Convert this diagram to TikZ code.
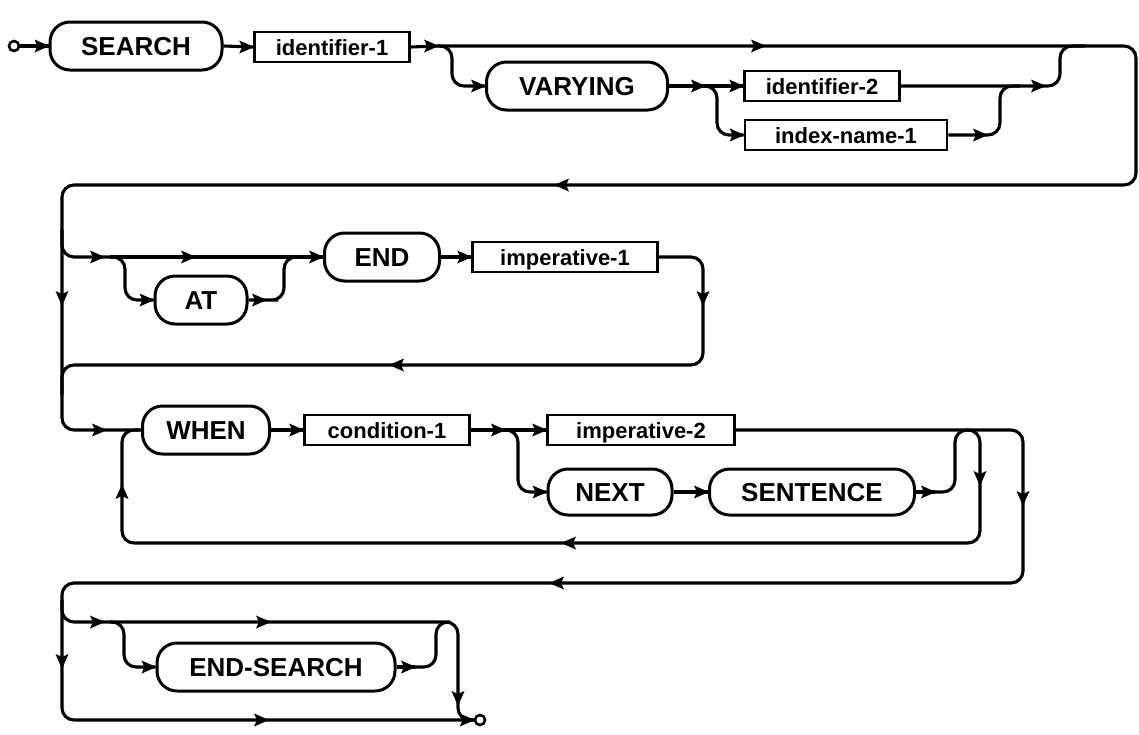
\documentclass[tikz,border=0pt]{standalone}
\usepackage{fontspec}
\setmainfont{Liberation Sans}
\usetikzlibrary{arrows.meta}
\begin{document}
\begin{tikzpicture}[x=1pt,y=-1pt,line width=3.1pt,
  kw/.style={draw,line width=3pt,rounded corners=20pt,minimum height=48pt,inner sep=0pt,text height=19pt,text depth=0pt,font=\fontsize{26}{30}\selectfont\bfseries},
  bx/.style={draw,line width=2.7pt,minimum height=30pt,inner sep=0pt,text height=16pt,text depth=0pt,font=\fontsize{22}{26}\selectfont\bfseries},
  rail/.style={line width=3.1pt,rounded corners=12pt},
  term/.style={circle,draw,line width=2.6pt,minimum size=10pt,inner sep=0pt},
  tipR/.pic={\fill (1,0) -- (-14,-6.5) -- (-11,0) -- (-14,6.5) -- cycle;},
  tipL/.pic={\fill (-1,0) -- (14,-6.5) -- (11,0) -- (14,6.5) -- cycle;},
  tipD/.pic={\fill (0,1) -- (-6.5,-14) -- (0,-11) -- (6.5,-14) -- cycle;},
  tipU/.pic={\fill (0,-1) -- (-6.5,14) -- (0,11) -- (6.5,14) -- cycle;}
]
\useasboundingbox (0,0) rectangle (1139,734);
% nodes
\node[term] (start) at (14,46) {};
\node[kw,minimum width=172pt] (search) at (136,46) {SEARCH};
\node[bx,minimum width=155pt] (id1) at (332,47) {identifier-1};
\coordinate (b1) at (438,46);
\node[kw,minimum width=181pt] (varying) at (577,86) {VARYING};
\coordinate (b2) at (705,86);
\node[bx,minimum width=155pt] (id2) at (822,86) {identifier-2};
\node[bx,minimum width=202pt] (idx) at (846,135) {index-name-1};
\coordinate (b3) at (110,257);
\node[kw,minimum width=92pt] (at) at (201,300) {AT};
\node[kw,minimum width=115pt] (endkw) at (382,257) {END};
\node[bx,minimum width=185pt] (imp1) at (565,257) {imperative-1};
\node[kw,minimum width=127pt] (when) at (206,430) {WHEN};
\node[bx,minimum width=165pt] (cond) at (387,430) {condition-1};
\coordinate (b4) at (505,430);
\node[bx,minimum width=187pt] (imp2) at (641,430) {imperative-2};
\node[kw,minimum width=124pt,minimum height=46pt] (next) at (610,492) {NEXT};
\node[kw,minimum width=205pt,minimum height=46pt] (sentence) at (812,492) {SENTENCE};
\coordinate (b5) at (110,622);
\node[kw,minimum width=238pt] (endsearch) at (276,667) {END-SEARCH};
\node[term] (fin) at (480,720) {};
% row 1
\draw[rail] (start.east) -- (search.west); \pic at (search.west) {tipR};
\draw[rail] (search.east) -- (id1.west); \pic at (id1.west) {tipR};
\draw[rail] (id1.east) -- (b1); \pic at (b1) {tipR};
\draw[rail] (b1) -- (1136,46) -- (1136,185) -- (62,185) -- (62,430) -- (when.west);
\pic at (765,46) {tipR}; \pic at (555,185) {tipL}; \pic at (62,305) {tipD}; \pic at (106,430) {tipR};
\draw[rail] (b1) -| (452,86) -- (varying.west); \pic at (varying.west) {tipR};
\draw[rail] (varying.east) -- (b2); \pic at (b2) {tipR};
\draw[rail] (b2) -- (id2.west); \pic at (id2.west) {tipR};
\draw[rail] (b2) -| (717,135) -- (idx.west); \pic at (idx.west) {tipR};
\draw[rail] (id2.east) -- (1060,86) -- (1060,46) -- (1085,46); \pic at (1045,86) {tipR};
\draw[rail] (idx.east) -- (1000,135) -- (1000,86) -- (1020,86); \pic at (987,135) {tipR};
% row 2
\draw[rail] (62,230) -- (62,257) -- (b3); \pic at (104,257) {tipR};
\draw[rail] (b3) -- (endkw.west); \pic at (195,257) {tipR}; \pic at (endkw.west) {tipR};
\draw[rail] (b3) -| (125,300) -- (at.west); \pic at (at.west) {tipR};
\draw[rail] (at.east) -- (266,300) -| (284,257) -- (300,257); \pic at (266,300) {tipR};
\draw[rail] (endkw.east) -- (imp1.west); \pic at (imp1.west) {tipR};
\draw[rail] (imp1.east) -- (703,257) -- (703,365) -- (62,365) -- (62,395);
\pic at (703,305) {tipD}; \pic at (390,365) {tipL};
% row 3
\draw[rail] (when.east) -- (cond.west); \pic at (cond.west) {tipR};
\draw[rail] (cond.east) -- (b4); \pic at (b4) {tipR};
\draw[rail] (b4) -- (imp2.west); \pic at (imp2.west) {tipR};
\draw[rail] (b4) -| (518,492) -- (next.west); \pic at (next.west) {tipR};
\draw[rail] (next.east) -- (sentence.west); \pic at (sentence.west) {tipR};
\draw[rail] (sentence.east) -- (935,492); \pic at (935,492) {tipR};
\draw[rail] (935,492) -- (955,492) -- (955,430) -- (980,430) -- (980,543) -- (122,543) -- (122,430) -- (140,430);
\pic at (980,485) {tipD}; \pic at (562,543) {tipL}; \pic at (122,485) {tipU};
\draw[rail] (imp2.east) -- (1023,430) -- (1023,583) -- (62,583) -- (62,720) -- (fin.west);
\pic at (1023,505) {tipD}; \pic at (550,583) {tipL}; \pic at (62,668) {tipD}; \pic at (268,720) {tipR}; \pic at (fin.west) {tipR};
% row 4
\draw[rail] (62,600) -- (62,622) -- (b5); \pic at (104,622) {tipR};
\draw[rail] (b5) -- (458,622) -- (458,720) -- (475,720); \pic at (270,622) {tipR}; \pic at (458,705) {tipD};
\draw[rail] (b5) -| (124,667) -- (endsearch.west); \pic at (endsearch.west) {tipR};
\draw[rail] (endsearch.east) -- (415,667); \pic at (415,667) {tipR};
\draw[rail] (415,667) -| (436,622) -- (450,622);
\end{tikzpicture}
\end{document}
